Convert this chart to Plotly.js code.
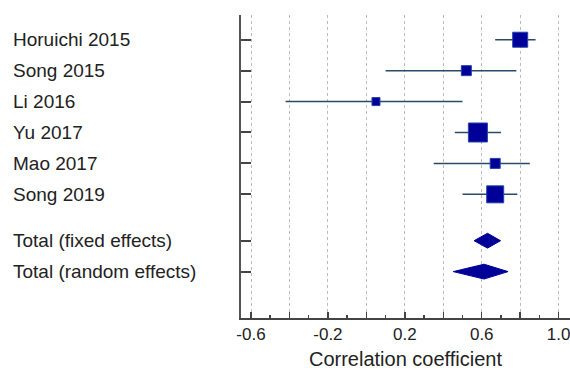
<!DOCTYPE html>
<html><head><meta charset="utf-8">
<script src="https://cdn.plot.ly/plotly-3.0.1.min.js"></script>
<style>html,body{margin:0;padding:0;background:#fff}#chart{width:570px;height:370px}</style>
</head><body><div id="chart"></div>
<script>
// Study data
const studies = ["Horuichi 2015","Song 2015","Li 2016","Yu 2017","Mao 2017","Song 2019"];
const studyRows = [0,1,2,3,4,5];
const estimates = [0.80, 0.52, 0.05, 0.58, 0.67, 0.67];
const lower = [0.67, 0.10, -0.42, 0.46, 0.35, 0.50];
const upper = [0.88, 0.78, 0.50, 0.70, 0.85, 0.785];
const weights = [15, 10, 8, 19, 10, 17];

// Pooled estimates
const totals = ["Total (fixed effects)","Total (random effects)"];
const totalRows = [6.5, 7.5];
const totalEst = [0.63, 0.612];
const totalLow = [0.56, 0.452];
const totalHigh = [0.698, 0.737];

// Axis ticks
const xTickVals = [-0.6,-0.4,-0.2,0,0.2,0.4,0.6,0.8,1.0];
const xTickText = ["-0.6","","-0.2","","0.2","","0.6","","1.0"];

const lineColor = '#2b4a66';
const markColor = '#000099';
const traces = [];

// CI lines
const cx = [], cy = [];
studies.forEach((s,i)=>{ cx.push(lower[i], upper[i], null); cy.push(studyRows[i], studyRows[i], null); });
traces.push({type:'scatter', mode:'lines', x:cx, y:cy, line:{color:lineColor, width:1.5}, hoverinfo:'skip'});

// squares
traces.push({type:'scatter', mode:'markers', x:estimates, y:studyRows,
  marker:{symbol:'square', size:weights, opacity:1, color:markColor, line:{color:'#2244aa', width:1}}, text:studies});

// diamonds
const dh = 0.24;
totals.forEach((t,i)=>{
  const r = totalRows[i];
  traces.push({type:'scatter', mode:'lines', fill:'toself', fillcolor:markColor,
    x:[totalLow[i], totalEst[i], totalHigh[i], totalEst[i], totalLow[i]],
    y:[r, r-dh, r, r+dh, r], line:{color:markColor, width:1}, name:t});
});

// labels
const allLabels = studies.concat(totals);
const allRows = studyRows.concat(totalRows);
const annotations = allLabels.map((t,i)=>({xref:'paper', yref:'y', x:-241/329 + 11/329, y:allRows[i],
  xanchor:'left', yanchor:'middle', text:t, showarrow:false, font:{family:'Liberation Sans, Arial', size:19, color:'#222'}}));

const layout = {
  width:570, height:370, showlegend:false,
  margin:{l:241, r:0, t:15, b:52},
  paper_bgcolor:'#fff', plot_bgcolor:'#fff',
  font:{family:'Liberation Sans, Arial', color:'#222'},
  xaxis:{range:[-0.652,1.059], tickvals:xTickVals, ticktext:xTickText, ticks:'inside', ticklen:6, tickcolor:'#444', tickwidth:1.5,
    ticklabeloverflow:'allow',
    showgrid:true, gridcolor:'#bbbbbb', griddash:'dot', gridwidth:1, zeroline:false,
    showline:true, linecolor:'#444', linewidth:2,
    minor:{dtick:0.1, tick0:-0.6, ticks:'inside', ticklen:3, tickcolor:'#444', showgrid:false},
    tickfont:{size:17, color:'#222'},
    title:{text:'Correlation coefficient', font:{size:20, color:'#222'}, standoff:9}},
  yaxis:{range:[9.0,-0.8], tickvals:allRows, ticks:'inside', ticklen:10, tickcolor:'#444', tickwidth:2,
    showticklabels:false, showgrid:false, zeroline:false, showline:true, linecolor:'#555', linewidth:2},
  annotations:annotations
};
Plotly.newPlot('chart', traces, layout, {displayModeBar:false, staticPlot:true});
</script></body></html>
